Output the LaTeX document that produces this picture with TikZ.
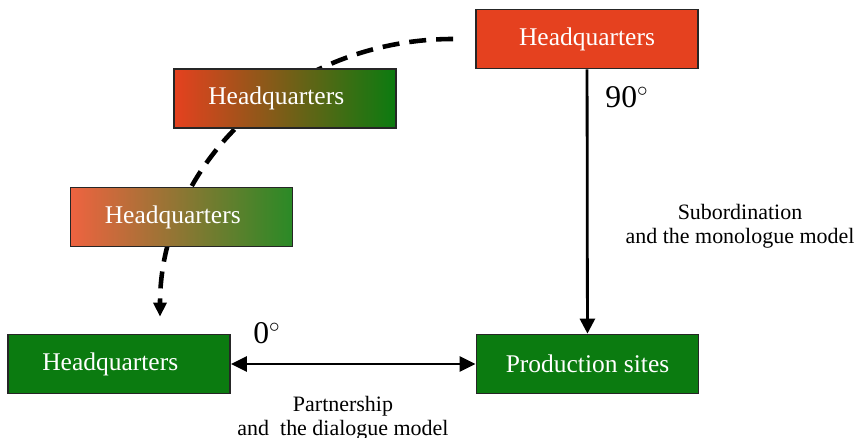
\documentclass[tikz,border=0pt]{standalone}
\usepackage{fontspec}
\setmainfont{Liberation Serif}
\usetikzlibrary{arrows.meta,positioning}
\pgfdeclarelayer{background}
\pgfsetlayers{background,main}
\definecolor{hqred}{HTML}{E5411F}
\definecolor{hqorange}{HTML}{EE6340}
\definecolor{hqbrown}{HTML}{C4600C}
\definecolor{hqolive}{HTML}{8F7530}
\definecolor{hqgreen}{HTML}{0B7B10}
\definecolor{hqlgreen}{HTML}{2A8A26}

\begin{document}
\begin{tikzpicture}[
  hq/.style={draw=black!85,line width=1pt,minimum width=4.44cm,minimum height=1.18cm,
    text=white,font=\fontsize{14.5}{17}\selectfont},
  flow/.style={-{Triangle[width=0.3cm,length=0.3cm]},line width=1.6pt},
  both/.style={{Triangle[width=0.3cm,length=0.32cm]}-{Triangle[width=0.3cm,length=0.32cm]},line width=1.6pt},
  dashflow/.style={-{Triangle[width=0.26cm,length=0.28cm]},line width=2.6pt,dash pattern=on 0.34cm off 0.2cm},
  note/.style={align=center,font=\fontsize{12.5}{13.5}\selectfont},
  angle/.style={font=\fontsize{18}{20}\selectfont}
]
  \useasboundingbox (0,0) rectangle (17.2,-8.76);

  \node[hq,fill=hqred] (top) at (11.74,-0.78) {Headquarters};
  \node[hq,shading=axis,left color=hqred,middle color=hqbrown,right color=hqgreen] (mid) at (5.70,-1.97) {Headquarters\hspace*{0.35cm}};
  \node[hq,shading=axis,left color=hqorange,middle color=hqolive,right color=hqlgreen] (low) at (3.63,-4.34) {Headquarters\hspace*{0.35cm}};
  \node[hq,fill=hqgreen] (left) at (2.38,-7.28) {Headquarters\hspace*{0.35cm}};
  \node[hq,fill=hqgreen] (prod) at (11.75,-7.28) {Production sites};

  \draw[flow] (top) -- (prod);
  \draw[both] (left) -- (prod);
  \begin{pgfonlayer}{background}
    \draw[dashflow] ([xshift=-0.44cm]top.west) .. controls +(-3.26,0) and +(0,3.06) .. ([xshift=0.82cm,yshift=0.34cm]left.north);
  \end{pgfonlayer}

  \node[angle] (deg90) at (12.54,-1.94) {90$^\circ$};
  \node[angle] (deg0) at (5.34,-6.66) {0$^\circ$};
  \node[note] (sub) at (14.8,-4.53) {Subordination\\and the monologue model};
  \node[note] (part) at (6.86,-8.36) {Partnership\\and\ \ the dialogue model};
\end{tikzpicture}
\end{document}
